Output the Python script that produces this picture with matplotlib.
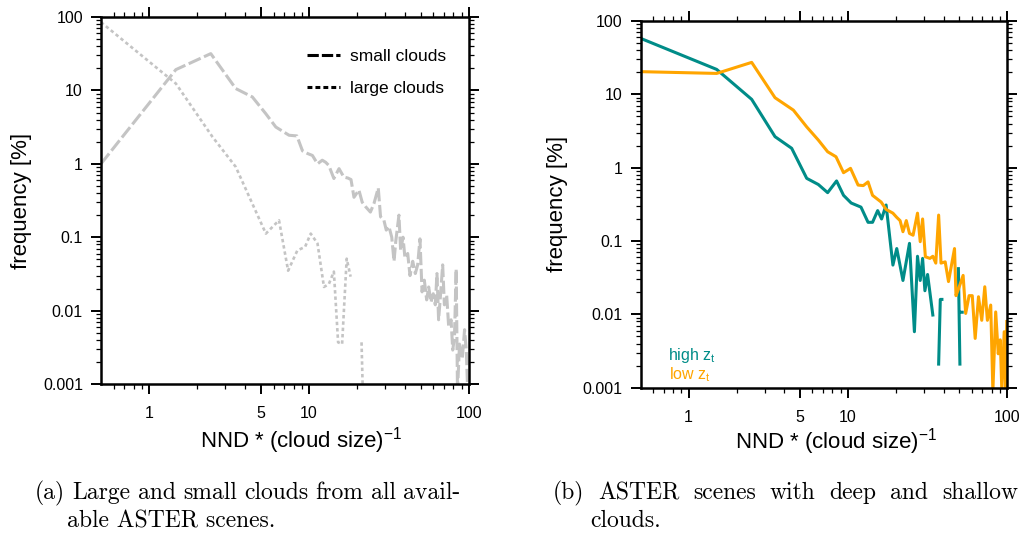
import numpy as np
import matplotlib
matplotlib.use("Agg")
import matplotlib.pyplot as plt
from matplotlib.lines import Line2D
from matplotlib.ticker import FixedLocator, FixedFormatter, NullFormatter

plt.rcParams['font.family'] = ['Liberation Sans', 'DejaVu Sans']
plt.rcParams['mathtext.fontset'] = 'custom'
plt.rcParams['mathtext.rm'] = 'Liberation Sans'
plt.rcParams['mathtext.it'] = 'Liberation Sans:italic'
plt.rcParams['mathtext.bf'] = 'Liberation Sans:bold'

nan = np.nan

# ---- panel (a): small and large clouds, all scenes ----
small_x = [0.5, 1.47, 2.43, 3.48, 4.42, 5.36, 6.2, 7.5, 8.4, 9.1, 9.8, 10.5, 11.3,
           12.1, 12.7, 13.3, 14.3, 15.4, 16.5, 17.5, 18.3, 19.1, 20.5, 21.5, 22.6,
           24.2, 25.5, 27.1, 28.0, 29.4, 30.4, 31.6, 32.9, 34.0, 34.9, 36.5, 37.4,
           38.7, 39.8, 41.4, 42.8, 44.5, 46.2, 47.8, 49.4, 50.9, 52.6, 54.4, 56.0,
           57.9, 59.8, 61.6, 63.1, 64.6, 66.5, 68.5, 70.2, 72.6, 74.7, 77.3, 79.2,
           81.2, 83.2, 84.8, 87.3, 90.8, 93.9, 96.3, 98.2]
small_y = [1.0, 19.2, 31.7, 10.6, 8.15, 4.83, 3.17, 2.45, 2.4, 1.5, 1.38, 1.3, 1.0,
           1.12, 1.05, 0.95, 0.63, 0.86, 0.66, 0.64, 0.61, 0.35, 0.44, 0.30, 0.26,
           0.22, 0.29, 0.47, 0.19, 0.17, 0.125, 0.14, 0.10, 0.047, 0.09, 0.2, 0.066,
           0.10, 0.052, 0.06, 0.03, 0.047, 0.032, 0.042, 0.095, 0.018, 0.026, 0.014,
           0.021, 0.013, 0.017, 0.012, 0.032, 0.0075, 0.017, 0.042, 0.012, 0.016,
           0.006, 0.0075, 0.0029, 0.0044, 0.037, 0.0008, 0.0035, 0.0022, 0.0055,
           0.0028, 0.0008]

large_x = [0.5, 1.47, 2.49, 3.48, 5.37, 6.49, 7.4, 8.45, 9.45, 10.25, 11.3, 12.4,
           13.3, 14.3, 15.2, 16.1, 17.2, 18.2, nan, 21.3, 21.8]
large_y = [85.0, 12.4, 2.33, 0.91, 0.112, 0.17, 0.035, 0.066, 0.074, 0.112, 0.082,
           0.021, 0.023, 0.034, 0.0037, 0.0035, 0.051, 0.029, nan, 0.0037, 0.0005]

# ---- panel (b): deep (high z_t) vs shallow (low z_t) scenes ----
high_x = [0.5, 1.5, 2.49, 3.49, 4.44, 5.52, 6.53, 7.47, 8.5, 9.4, 10.5, 12.1, 13.4,
          14.3, 15.4, 16.3, 17.4, 19.2, 20.3, 22.2, 24.4, 26.2, 27.4, 28.5, 29.5,
          30.5, 31.7, 34.2, nan, 37.2, 38.1, 39.0, nan, 49.5, 50.6, nan, 51.2, 52.3]
high_y = [58.0, 21.9, 8.55, 2.65, 1.84, 0.716, 0.59, 0.457, 0.66, 0.42, 0.33, 0.29,
          0.18, 0.18, 0.26, 0.2, 0.31, 0.047, 0.079, 0.029, 0.093, 0.0058, 0.062,
          0.029, 0.058, 0.021, 0.035, 0.0098, nan, 0.0021, 0.016, 0.016, nan, 0.042,
          0.0021, nan, 0.0107, 0.0107]

low_x = [0.5, 1.5, 2.49, 3.49, 4.55, 5.52, 6.53, 7.47, 8.43, 9.4, 10.4, 11.6, 12.5,
         13.4, 14.3, 16.2, 17.4, 19.2, 20.3, 21.3, 22.2, 23.3, 24.4, 25.7, 27.4,
         28.5, 29.5, 30.7, 32.8, 34.2, 35.7, 37.2, 38.5, 40.9, 42.9, 46.8, 47.8,
         49.5, 53.0, 55.0, 57.8, 60.5, 63.1, 66.2, 69.4, 72.5, 75.3, 79.0, 81.5,
         84.9, 88.1, 90.7, 92.8, 96.0, 98.2, 99.7]
low_y = [20.4, 19.3, 27.3, 9.0, 6.1, 3.6, 2.38, 1.65, 1.41, 0.855, 0.98, 0.58, 0.57,
         0.64, 0.42, 0.34, 0.27, 0.24, 0.21, 0.19, 0.134, 0.19, 0.127, 0.12, 0.24,
         0.098, 0.2, 0.061, 0.058, 0.062, 0.05, 0.226, 0.05, 0.052, 0.028, 0.079,
         0.018, 0.022, 0.034, 0.0103, 0.018, 0.018, 0.0047, 0.0174, 0.0083, 0.0238,
         0.0083, 0.0134, 0.0009, 0.0108, 0.0029, 0.0045, 0.0009, 0.0058, 0.0009,
         0.008]

# ---- axis ticks ----
x_major = [1, 5, 10, 100]
x_labels = ['1', '5', '10', '100']
x_minor = [0.6, 0.7, 0.8, 0.9, 2, 3, 4, 6, 7, 8, 9, 20, 30, 40, 50, 60, 70, 80, 90]
y_major = [0.001, 0.01, 0.1, 1, 10, 100]
y_labels = ['0.001', '0.01', '0.1', '1', '10', '100']
y_minor = [m * 10.0 ** k for k in range(-3, 2) for m in range(2, 10)]

legend_labels = ['small clouds', 'large clouds']
grey = '#c4c4c4'
teal = '#008c88'
orange = '#ffa500'

fig = plt.figure(figsize=(10.21, 5.35), dpi=100)
axL = fig.add_axes([0.0989, 0.2822, 0.3604, 0.686])
axR = fig.add_axes([0.6275, 0.2753, 0.3588, 0.6854])


def style(ax):
    ax.set_xscale('log')
    ax.set_yscale('log')
    ax.set_xlim(0.5, 100)
    ax.set_ylim(0.001, 100)
    ax.xaxis.set_major_locator(FixedLocator(x_major))
    ax.xaxis.set_major_formatter(FixedFormatter(x_labels))
    ax.xaxis.set_minor_locator(FixedLocator(x_minor))
    ax.xaxis.set_minor_formatter(NullFormatter())
    ax.yaxis.set_major_locator(FixedLocator(y_major))
    ax.yaxis.set_major_formatter(FixedFormatter(y_labels))
    ax.yaxis.set_minor_locator(FixedLocator(y_minor))
    ax.yaxis.set_minor_formatter(NullFormatter())
    ax.tick_params(which='both', direction='out', top=True, right=True,
                   labeltop=False, labelright=False, color='black')
    ax.tick_params(which='major', length=7, width=1.4, labelsize=11.5)
    ax.tick_params(axis='x', which='major', pad=9)
    ax.tick_params(axis='y', which='major', pad=6)
    ax.tick_params(which='minor', length=3.5, width=0.9)
    for s in ax.spines.values():
        s.set_linewidth(1.8)
    ax.set_ylabel('frequency [%]', fontsize=16)
    ax.set_xlabel('NND * (cloud size)$^{\\mathrm{-1}}$', fontsize=16)
    ax.xaxis.label.set_va('center')
    ax.yaxis.label.set_va('center')


style(axL)
style(axR)

axL.plot(small_x, small_y, color=grey, lw=2.2, dashes=(4.3, 1.2),
         dash_capstyle='butt', solid_joinstyle='miter')
axL.plot(large_x, large_y, color=grey, lw=1.9, dashes=(1.3, 1.1),
         dash_capstyle='butt')

handles = [Line2D([], [], color='black', lw=2.2, dashes=(3.7, 1.0)),
           Line2D([], [], color='black', lw=2.2, dashes=(1.6, 1.0))]
axL.legend(handles, legend_labels, loc='center left',
           bbox_to_anchor=(0.56, 0.849), frameon=False, fontsize=12.5,
           handlelength=1.9, handletextpad=0.55, labelspacing=0.95,
           borderpad=0, borderaxespad=0)

axR.plot(high_x, high_y, color=teal, lw=2.2)
axR.plot(low_x, low_y, color=orange, lw=2.2)
axR.text(0.0745, 0.075, 'high z$_\\mathrm{t}$', color=teal, fontsize=11.5,
         transform=axR.transAxes, ha='left', va='baseline')
axR.text(0.0775, 0.022, 'low z$_\\mathrm{t}$', color=orange, fontsize=11.5,
         transform=axR.transAxes, ha='left', va='baseline')

axL.yaxis.set_label_coords(-0.215, 0.5)
axR.yaxis.set_label_coords(-0.226, 0.5)
axL.xaxis.set_label_coords(0.543, -0.153)
axR.xaxis.set_label_coords(0.533, -0.148)

# captions below the panels, first lines set flush on both sides
cap = dict(family='cmr10', fontsize=17, va='baseline', ha='left')
W = fig.bbox.width


def justified(x0, x1, y, line):
    words = line.split(' ')
    texts = [fig.text(x0 / W, y, w, **cap) for w in words]
    renderer = fig.canvas.get_renderer()
    widths = [t.get_window_extent(renderer).width for t in texts]
    gap = ((x1 - x0) - sum(widths)) / (len(words) - 1)
    x = x0
    for t, w in zip(texts, widths):
        t.set_x(x / W)
        x += w + gap


justified(35, 460, 1 - 499 / 535, '(a) Large and small clouds from all avail-')
fig.text(67 / W, 1 - 527 / 535, 'able ASTER scenes.', **cap)
justified(553, 1018, 1 - 499 / 535, '(b) ASTER scenes with deep and shallow')
fig.text(590 / W, 1 - 527 / 535, 'clouds.', **cap)

fig.savefig('out.png', dpi=100)
